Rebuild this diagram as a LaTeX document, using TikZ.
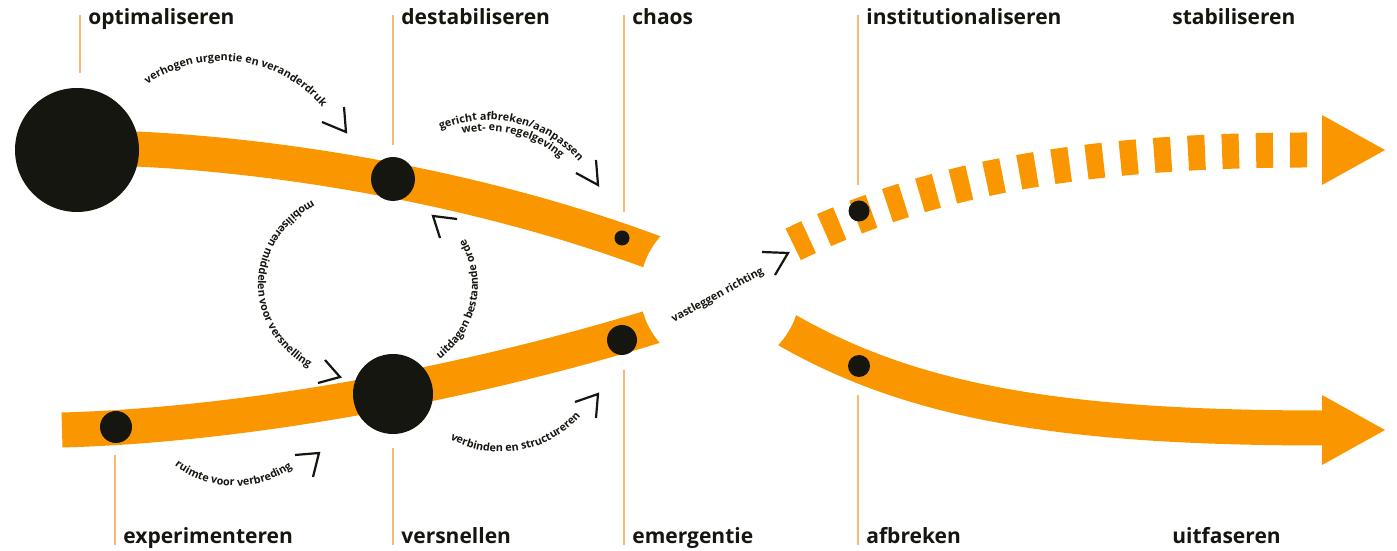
\documentclass[tikz,border=0pt]{standalone}
\usepackage{fontspec}
\setmainfont{Open Sans}
\usetikzlibrary{decorations.text}
\definecolor{oranje}{RGB}{250,150,0}
\definecolor{lijn}{RGB}{250,185,115}
\definecolor{inkt}{RGB}{22,22,16}
\newcommand\annofont{\fontsize{5.4}{6}\selectfont\bfseries}

\begin{document}
\begin{tikzpicture}[x=0.5pt, y=0.5pt, font=\fontsize{10.5}{12}\selectfont\bfseries, line join=round,
	band/.style={draw=oranje, line width=17.5pt},
	dot/.style={circle, fill=inkt, inner sep=0pt},
	phase/.style={draw=lijn, line width=0.9pt},
	toplabel/.style={anchor=base west, inner sep=0pt, text=inkt},
	chevron/.style={draw=inkt, line width=1.1pt, line cap=butt, line join=miter},
	curvetext/.style={decorate, decoration={text along path, text align=center, text color=inkt, text={|\annofont|#1}}}]
		\useasboundingbox (0,0) rectangle (1397,551);
		% fasen boven en onder
		\foreach \x/\yb/\lbl in {80/478/optimaliseren, 393/406/destabiliseren, 624/339/chaos, 858/366/institutionaliseren}{
			\draw[phase] (\x,536) -- (\x,\yb);
			\node[toplabel] (\lbl) at (\x+8,526) {\lbl};
		}
		\node[toplabel] (stabiliseren) at (1172,526) {stabiliseren};
		\foreach \x/\yt/\lbl in {115/96/experimenteren, 393/103/versnellen, 624/181/emergentie, 858/156/afbreken}{
			\draw[phase] (\x,\yt) -- (\x,6);
			\node[toplabel] (\lbl) at (\x+8,7) {\lbl};
		}
		\node[toplabel] (uitfaseren) at (1172,7) {uitfaseren};
		% banen
		\draw[band] (100,403) .. controls (250,401) and (500,366) .. (710,276);
		\draw[band] (62,121) .. controls (250,126) and (500,171) .. (720,246);
		\draw[band, dash pattern=on 8.5pt off 8.5pt] (1307,401) .. controls (1050,401) and (900,361) .. (782,301);
		\draw[band] (770,231) .. controls (900,151) and (1050,123) .. (1325,123);
		\fill[oranje] (1322,436) -- (1385,401) -- (1322,366) -- cycle;
		\fill[oranje] (1322,156) -- (1385,121) -- (1322,86) -- cycle;
		\fill[white] (720,261) circle[radius=40pt];
		% stippen
		\node[dot, minimum size=62pt] (optdot) at (77,401) {};
		\node[dot, minimum size=22pt] (destabdot) at (393,372) {};
		\node[dot, minimum size=7.5pt] (chaosdot) at (622,313) {};
		\node[dot, minimum size=40pt] (versneldot) at (393,157) {};
		\node[dot, minimum size=16pt] (expdot) at (116,124) {};
		\node[dot, minimum size=15pt] (emergdot) at (622,211) {};
		\node[dot, minimum size=10.5pt] (instdot) at (859,340) {};
		\node[dot, minimum size=11pt] (afbrdot) at (859,185) {};
		% bewegingen
		\path[curvetext={verhogen urgentie en veranderdruk}] (144.4,464.8) arc[start angle=126, end angle=39, radius=66pt];
		\path[curvetext={gericht afbreken/aanpassen}] (439.2,420.6) arc[start angle=114, end angle=40, radius=60pt];
		\path[curvetext={wet- en regelgeving}] (454.3,414.7) arc[start angle=108, end angle=44, radius=54.5pt];
		\path[curvetext={mobiliseren middelen voor versnelling}] (330.4,358.1) arc[start angle=110, end angle=248, x radius=55pt, y radius=49pt];
		\path[curvetext={uitdagen bestaande orde}] (435.7,188.8) arc[start angle=-52, end angle=31, x radius=55pt, y radius=49pt];
		\path[curvetext={ruimte voor verbreding}] (172.1,87.3) arc[start angle=231, end angle=307, radius=50pt];
		\path[curvetext={verbinden en structureren}] (446.4,114.1) arc[start angle=239, end angle=321, radius=53pt];
		\path[curvetext={vastleggen richting}] (668,225) -- (770,281);
		\draw[chevron] (344,444) -- (346,419) -- (322,429);
		\draw[chevron] (596,391) -- (598,366) -- (576,378);
		\draw[chevron] (325,191) -- (340,174) -- (318,168);
		\draw[chevron] (457,332) -- (433,335) -- (440,313);
		\draw[chevron] (295,96) -- (319,98) -- (313,74);
		\draw[chevron] (575,149) -- (598,157) -- (596,133);
		\draw[chevron] (762,299) -- (788,298) -- (775,276);
\end{tikzpicture}
\end{document}
